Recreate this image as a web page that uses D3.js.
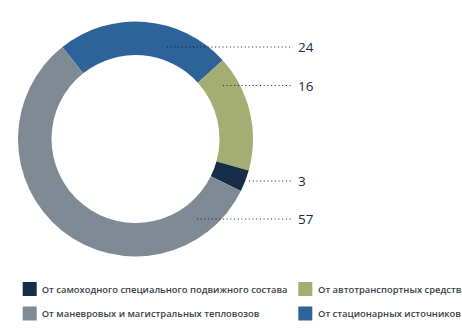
<!DOCTYPE html>
<html><head><meta charset="utf-8">
<script src="https://cdn.jsdelivr.net/npm/d3@7"></script>
<style>body{margin:0;background:#fff}svg{display:block}</style>
</head><body>
<svg id="c" width="462" height="329"></svg>
<script>
const categories = ["От стационарных источников","От автотранспортных средств","От самоходного специального подвижного состава","От маневровых и магистральных тепловозов"];
const values = [24, 16, 3, 57];
const colors = ["#2e6399", "#a4ae72", "#172d47", "#7f8a95"];
const labelY = [47, 85.5, 181, 219];
const lineStartX = [167, 223, 249, 197];
const legendOrder = [2, 1, 3, 0];

const svg = d3.select("#c");
const cx = 135.5, cy = 139, rO = 117.5, rI = 84;
const start = -38.5 * Math.PI / 180;
const pie = d3.pie().sort(null).value(d => d).startAngle(start).endAngle(start + 2 * Math.PI);
const arc = d3.arc().innerRadius(rI).outerRadius(rO);
const g = svg.append("g").attr("transform", `translate(${cx},${cy})`);
g.selectAll("path").data(pie(values)).join("path")
  .attr("d", arc).attr("fill", (d, i) => colors[i]);

const lbl = svg.append("g");
values.forEach((v, i) => {
  lbl.append("line").attr("x1", lineStartX[i]).attr("x2", 293)
    .attr("y1", labelY[i]).attr("y2", labelY[i])
    .attr("stroke", "#1b2233").attr("stroke-width", 1.1).attr("stroke-dasharray", "1,2.7");
  lbl.append("text").attr("x", 298).attr("y", labelY[i] + 5)
    .attr("font-family", "Open Sans").attr("font-size", 13.5).attr("font-weight", 500)
    .attr("fill", "#1b2a44").text(v);
});

const leg = svg.append("g");
const pos = [[22.7, 282, 41.7], [298.3, 282, 318], [22.7, 306.5, 41.7], [298.3, 306.5, 318]];
legendOrder.forEach((ci, k) => {
  const [sx, sy, tx] = pos[k];
  leg.append("rect").attr("x", sx).attr("y", sy).attr("width", 14).attr("height", 14).attr("fill", colors[ci]);
  leg.append("text").attr("x", tx).attr("y", sy + 10.5)
    .attr("font-family", "Open Sans").attr("font-size", 9.4).attr("font-weight", 600)
    .attr("fill", "#3a3f47").text(categories[ci]);
});
</script>
</body></html>
